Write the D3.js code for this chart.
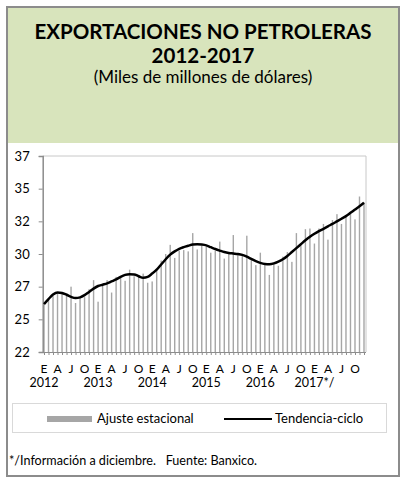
<!DOCTYPE html>
<html>
<head>
<meta charset="utf-8">
<script src="https://cdn.jsdelivr.net/npm/d3@7"></script>
<style>
  body { margin: 0; background: #fff; }
  svg text { font-family: Lato, "Open Sans", sans-serif; fill: #000; }
</style>
</head>
<body>
<div id="chart"></div>
<script>
// monthly values, enero 2012 - diciembre 2017 (miles de millones de dolares)
var ajuste = [
  26.1, 26.5, 26.8, 27.05, 27.0, 26.85, 27.5, 26.25, 26.7, 26.7, 27.3, 28.0,
  26.35, 27.6, 28.0, 27.05, 28.25, 28.3, 27.95, 28.8, 28.3, 28.4, 28.5, 27.8,
  27.9, 28.8, 29.5, 30.0, 30.7, 29.7, 30.25, 30.3, 30.2, 31.6, 30.35, 30.65,
  30.55, 30.1, 30.25, 30.95, 29.65, 30.05, 31.45, 30.05, 29.85, 31.4, 29.55, 29.15,
  30.1, 29.15, 28.4, 29.3, 29.1, 29.8, 30.15, 29.4, 31.6, 30.6, 31.9, 31.95,
  30.8, 31.95, 32.3, 31.1, 32.6, 33.05, 32.3, 32.95, 33.2, 32.65, 34.4, 33.95
]
var tendencia = [
  26.17, 26.55, 26.9, 27.06, 27.02, 26.88, 26.72, 26.63, 26.68, 26.85, 27.1, 27.35,
  27.55, 27.65, 27.75, 27.9, 28.05, 28.25, 28.4, 28.45, 28.44, 28.3, 28.18, 28.25,
  28.5, 28.8, 29.2, 29.6, 29.95, 30.2, 30.4, 30.53, 30.63, 30.72, 30.74, 30.72,
  30.66, 30.52, 30.38, 30.26, 30.15, 30.08, 30.04, 30.0, 29.93, 29.8, 29.62, 29.45,
  29.32, 29.24, 29.22, 29.28, 29.42, 29.6, 29.85, 30.15, 30.45, 30.75, 31.05, 31.32,
  31.55, 31.75, 31.93, 32.12, 32.3, 32.5, 32.7, 32.9, 33.15, 33.4, 33.65, 33.92
]
var mesLabels = ["E", "A", "J", "O"]
var anioLabels = ["2012", "2013", "2014", "2015", "2016", "2017*/"]
var yTicks = [22.5, 25, 27.5, 30, 32.5, 35, 37.5]
var yTickLabels = ["22", "25", "27", "30", "32", "35", "37"]

var width = 406, height = 484
var svg = d3.select("#chart").append("svg").attr("width", width).attr("height", height)

// frame and header
svg.append("rect").attr("x", 7).attr("y", 7).attr("width", 392).attr("height", 469)
  .attr("fill", "#fff").attr("stroke", "#8c8c8c").attr("stroke-width", 2)
svg.append("rect").attr("x", 8).attr("y", 8).attr("width", 390).attr("height", 135)
  .attr("fill", "#d8e4bc")

svg.append("text").text("EXPORTACIONES NO PETROLERAS")
  .attr("x", 203).attr("y", 39).attr("text-anchor", "middle")
  .style("font-size", "20.5px").style("font-weight", "bold")
svg.append("text").text("2012-2017")
  .attr("x", 203).attr("y", 63).attr("text-anchor", "middle")
  .style("font-size", "20.5px").style("font-weight", "bold")
svg.append("text").text("(Miles de millones de dólares)")
  .attr("x", 203).attr("y", 83).attr("text-anchor", "middle")
  .style("font-size", "17px")

var plotLeft = 42.7, plotRight = 366, plotTop = 156, plotBottom = 352

var x = d3.scaleLinear().domain([0, ajuste.length - 1]).range([44, 364])
var y = d3.scaleLinear().domain([22.5, 37.5]).range([plotBottom, plotTop])

// plot border (top/right)
svg.append("path")
  .attr("d", "M" + plotLeft + "," + plotTop + "H" + plotRight + "V" + plotBottom)
  .attr("fill", "none").attr("stroke", "#c8c8c8").attr("stroke-width", 1)

// bars
svg.append("g").selectAll("rect").data(ajuste).enter().append("rect")
  .attr("x", function(d, i) { return x(i) - 0.7 })
  .attr("width", 1.4)
  .attr("y", function(d) { return y(d) })
  .attr("height", function(d) { return y(22.5) - y(d) })
  .attr("fill", "#a6a6a6")

// y axis
var yAxis = svg.append("g").attr("transform", "translate(" + plotLeft + ",0)")
  .call(d3.axisLeft(y).tickValues(yTicks).tickSize(4)
    .tickFormat(function(d, i) { return yTickLabels[i] }))
yAxis.select(".domain").attr("stroke", "#8c8c8c").attr("stroke-width", 1.5)
yAxis.selectAll(".tick line").attr("stroke", "#8c8c8c")
yAxis.selectAll(".tick text").attr("x", -13).style("font-size", "13px")
  .style("font-family", "Lato, sans-serif").attr("fill", "#000")

// x axis
var xAxis = svg.append("g").attr("transform", "translate(0," + plotBottom + ")")
  .call(d3.axisBottom(x).tickValues(d3.range(ajuste.length)).tickSize(3).tickFormat(""))
xAxis.select(".domain").attr("stroke", "#8c8c8c").attr("d", "M" + plotLeft + ",0.5H" + plotRight)
xAxis.selectAll(".tick line").attr("stroke", "#8c8c8c")

var quarters = d3.range(0, ajuste.length, 3)
svg.append("g").selectAll("text").data(quarters).enter().append("text")
  .text(function(d) { return mesLabels[(d % 12) / 3] })
  .attr("x", function(d) { return x(d) })
  .attr("y", 373).attr("text-anchor", "middle")
  .style("font-size", "12px")
svg.append("g").selectAll("text").data(anioLabels).enter().append("text")
  .text(function(d) { return d })
  .attr("x", function(d, i) { return x(i * 12) })
  .attr("y", 387).attr("text-anchor", "middle")
  .style("font-size", "12.5px")

// trend line
var line = d3.line()
  .x(function(d, i) { return x(i) })
  .y(function(d) { return y(d) })
  .curve(d3.curveMonotoneX)
svg.append("path").datum(tendencia).attr("d", line)
  .attr("fill", "none").attr("stroke", "#000").attr("stroke-width", 2.5)

// legend
svg.append("rect").attr("x", 12.5).attr("y", 403.5).attr("width", 374).attr("height", 29)
  .attr("fill", "#fff").attr("stroke", "#d9d9d9")
svg.append("rect").attr("x", 47).attr("y", 416).attr("width", 45).attr("height", 6)
  .attr("fill", "#a6a6a6")
svg.append("text").text("Ajuste estacional").attr("x", 97).attr("y", 423).style("font-size", "13px")
svg.append("line").attr("x1", 224).attr("x2", 272).attr("y1", 419).attr("y2", 419)
  .attr("stroke", "#000").attr("stroke-width", 2)
svg.append("text").text("Tendencia-ciclo").attr("x", 275).attr("y", 423).style("font-size", "13px")

svg.append("text").text("*/Información a diciembre.   Fuente: Banxico.")
  .attr("x", 9).attr("y", 465).style("font-size", "12.6px")
  .style("white-space", "pre").attr("xml:space", "preserve")
</script>
</body>
</html>
